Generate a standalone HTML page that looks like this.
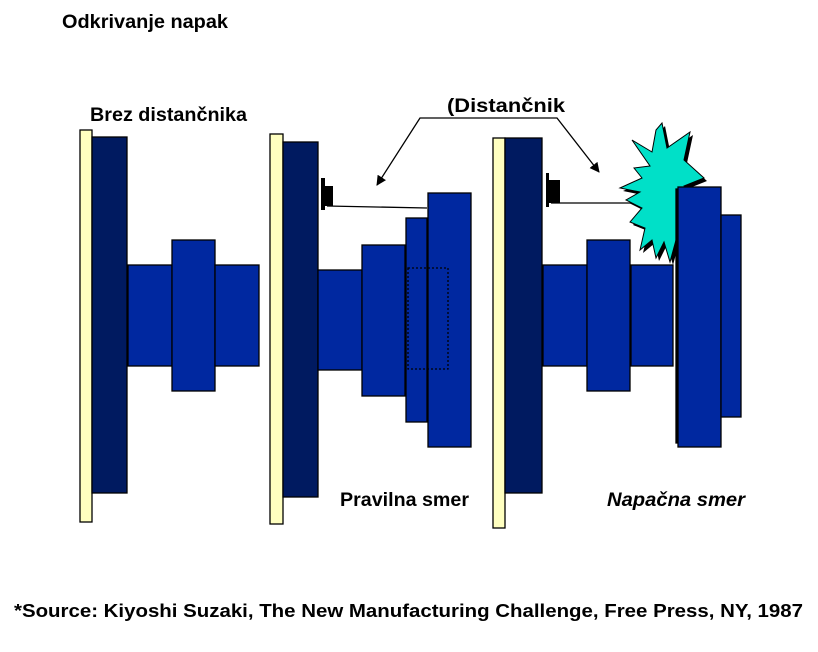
<!DOCTYPE html>
<html><head><meta charset="utf-8"><style>
body{margin:0;background:#fff;}
svg{display:block;}
text{font-family:"Liberation Sans",Arial,sans-serif;font-weight:bold;}
</style></head><body>
<svg width="818" height="652" viewBox="0 0 818 652" xmlns="http://www.w3.org/2000/svg">
<defs><marker id="ah" markerWidth="10" markerHeight="10" refX="9" refY="5" orient="auto" markerUnits="userSpaceOnUse"><path d="M0,0 L10,5 L0,10 z" fill="#000"/></marker></defs>
<text x="62" y="28" font-size="19" textLength="166" lengthAdjust="spacingAndGlyphs">Odkrivanje napak</text>
<text x="90" y="121" font-size="19" textLength="157" lengthAdjust="spacingAndGlyphs">Brez distančnika</text>
<text x="447" y="112" font-size="19" textLength="118" lengthAdjust="spacingAndGlyphs">(Distančnik</text>
<text x="340" y="506" font-size="19" textLength="129" lengthAdjust="spacingAndGlyphs">Pravilna smer</text>
<text x="607" y="506" font-size="19" font-style="italic" textLength="138" lengthAdjust="spacingAndGlyphs">Napačna smer</text>
<text x="14" y="617" font-size="18" textLength="789" lengthAdjust="spacingAndGlyphs">*Source: Kiyoshi Suzaki, The New Manufacturing Challenge, Free Press, NY, 1987</text>
<g stroke="#000" stroke-width="1.3">
<rect x="80" y="130" width="12" height="392" fill="#ffffc0"/>
<rect x="92" y="137" width="35" height="356" fill="#001a60"/>
<rect x="128" y="265" width="44" height="101" fill="#0028a0"/>
<rect x="172" y="240" width="43" height="151" fill="#0028a0"/>
<rect x="215" y="265" width="44" height="101" fill="#0028a0"/>
<rect x="270" y="134" width="13" height="390" fill="#ffffc0"/>
<rect x="283" y="142" width="35" height="355" fill="#001a60"/>
<rect x="318" y="270" width="44" height="100" fill="#0028a0"/>
<rect x="362" y="245" width="43" height="151" fill="#0028a0"/>
<rect x="406" y="218" width="21" height="204" fill="#0028a0"/>
<rect x="428" y="193" width="43" height="254" fill="#0028a0"/>
<rect x="408" y="268" width="40" height="101" fill="none" stroke-dasharray="2,2"/>
<line x1="327" y1="206" x2="427" y2="208"/>
<rect x="493" y="138" width="12" height="390" fill="#ffffc0"/>
<rect x="505" y="138" width="37" height="355" fill="#001a60"/>
<rect x="543" y="265" width="44" height="101" fill="#0028a0"/>
<rect x="587" y="240" width="43" height="151" fill="#0028a0"/>
<rect x="631" y="265" width="42" height="101" fill="#0028a0"/>
<line x1="551" y1="203" x2="652" y2="203"/>
</g>
<rect x="321" y="178" width="4" height="32" fill="#000"/>
<rect x="325" y="186" width="8" height="20" fill="#000"/>
<rect x="546" y="173" width="3" height="34" fill="#000"/>
<rect x="549" y="180" width="11" height="23" fill="#000"/>
<polygon transform="translate(3,3)" fill="#000" points="662,123 667,148 690,132 684,160 704,178 684,186 693,200 682,215 690,230 676,240 670,262 664,242 656,258 652,240 640,250 645,228 630,222 642,208 626,200 640,192 620,188 642,178 634,168 650,166 632,140 652,152 656,130"/>
<polygon fill="#00e0c8" stroke="#000" stroke-width="1" points="662,123 667,148 690,132 684,160 704,178 684,186 693,200 682,215 690,230 676,240 670,262 664,242 656,258 652,240 640,250 645,228 630,222 642,208 626,200 640,192 620,188 642,178 634,168 650,166 632,140 652,152 656,130"/>
<g stroke="#000" stroke-width="1.3">
<rect x="676" y="189" width="43" height="254" fill="#000"/>
<rect x="678" y="187" width="43" height="260" fill="#0028a0"/>
<rect x="721" y="215" width="20" height="202" fill="#0028a0"/>
</g>
<polyline points="553,118 420,118 377,185" fill="none" stroke="#000" stroke-width="1.3" marker-end="url(#ah)"/>
<polyline points="553,118 557,118 599,172" fill="none" stroke="#000" stroke-width="1.3" marker-end="url(#ah)"/>
</svg>
</body></html>
